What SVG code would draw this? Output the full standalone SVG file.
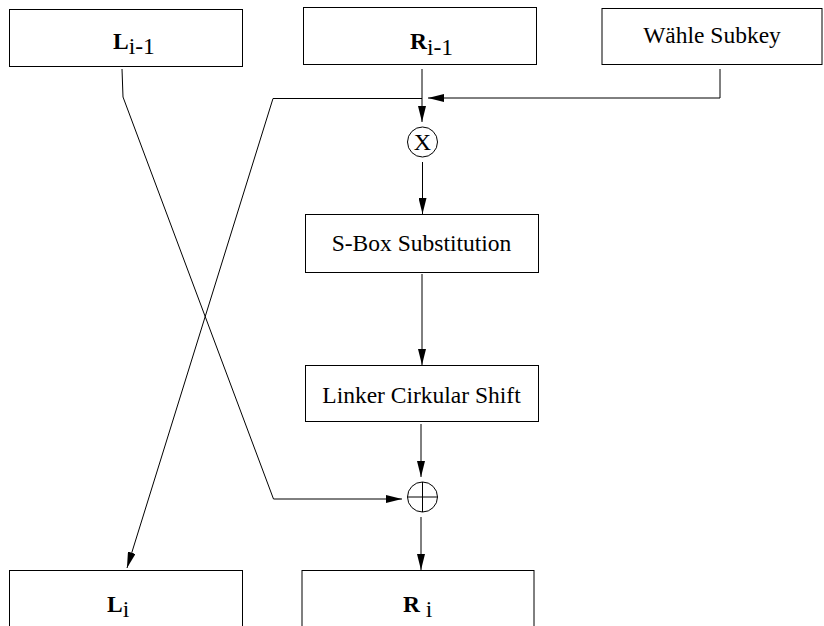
<svg xmlns="http://www.w3.org/2000/svg" width="824" height="626" viewBox="0 0 824 626">
<style>
.box{fill:#fff;stroke:#000;stroke-width:1}
text{font-family:'Liberation Serif','Times New Roman',Times,serif;font-size:23.5px;fill:#000}
.b{font-weight:bold}
.n{font-weight:normal}
.c{fill:none;stroke:#000;stroke-width:1}
.op{fill:#fff;stroke:#000;stroke-width:1}
</style>
<defs>
<marker id="ah" viewBox="0 0 16 8" markerWidth="16" markerHeight="8" refX="16" refY="4" orient="auto" markerUnits="userSpaceOnUse">
<path d="M0,0 L16,4 L0,8 z" fill="#000"/>
</marker>
</defs>
<rect width="824" height="626" fill="#fff"/>
<g id="connectors">
<path class="c" d="M422,69 V122" marker-end="url(#ah)"/>
<path class="c" d="M720,69 V98 H428" marker-end="url(#ah)"/>
<path class="c" d="M422,98.5 H273 L127,568" marker-end="url(#ah)"/>
<path class="c" d="M122,69 L123,97 L273.5,499 H402" marker-end="url(#ah)"/>
<path class="c" d="M422.5,162 V214" marker-end="url(#ah)"/>
<path class="c" d="M422,274 V365" marker-end="url(#ah)"/>
<path class="c" d="M421,424 V477" marker-end="url(#ah)"/>
<path class="c" d="M421,517 V570" marker-end="url(#ah)"/>
</g>
<g id="L_im1">
<rect class="box" x="9.5" y="9.5" width="233" height="57"/>
<text x="113" y="49"><tspan class="b">L</tspan><tspan class="n" dy="5">i-1</tspan></text>
</g>
<g id="R_im1">
<rect class="box" x="303.5" y="7.5" width="233" height="57"/>
<text x="410" y="48.5"><tspan class="b">R</tspan><tspan class="n" dy="6">i-1</tspan></text>
</g>
<g id="subkey">
<rect class="box" x="602" y="8.5" width="220" height="56"/>
<text x="712" y="43" text-anchor="middle">Wähle Subkey</text>
</g>
<g id="mult">
<circle class="op" cx="422.5" cy="142" r="15"/>
<text x="422.5" y="150" text-anchor="middle" style="font-size:24px">X</text>
</g>
<g id="sbox">
<rect class="box" x="305.5" y="214.5" width="233" height="58"/>
<text x="421.5" y="251" text-anchor="middle">S-Box Substitution</text>
</g>
<g id="shift">
<rect class="box" x="305.5" y="365.5" width="233" height="56"/>
<text x="421.5" y="403" text-anchor="middle">Linker Cirkular Shift</text>
</g>
<g id="xor">
<circle class="op" cx="422.5" cy="497" r="15"/>
<path class="c" d="M407.5,497 H437.5 M422.5,482 V512"/>
</g>
<g id="L_i">
<rect class="box" x="9.5" y="570.5" width="233" height="70"/>
<text x="107" y="612"><tspan class="b">L</tspan><tspan class="n" dy="5">i</tspan></text>
</g>
<g id="R_i">
<rect class="box" x="302" y="570.5" width="232" height="70"/>
<text x="403" y="612"><tspan class="b">R</tspan><tspan class="n" dy="5"> i</tspan></text>
</g>
</svg>
